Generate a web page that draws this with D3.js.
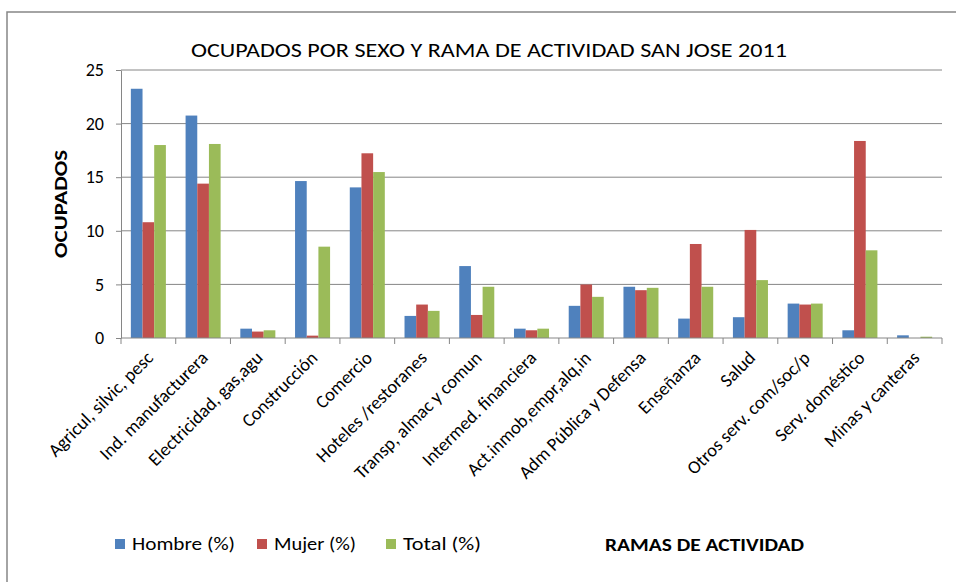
<!DOCTYPE html>
<html>
<head>
<meta charset="utf-8">
<script src="https://cdn.jsdelivr.net/npm/d3@7"></script>
<style>
  body { margin: 0; background: #fff; }
  text { font-family: Carlito, Lato, "Liberation Sans", sans-serif; fill: #000; }
</style>
</head>
<body>
<div id="chart"></div>
<script>
const categories = [
  "Agricul, silvic, pesc", "Ind. manufacturera", "Electricidad, gas,agu",
  "Construcción", "Comercio", "Hoteles /restoranes", "Transp, almac y comun",
  "Intermed. financiera", "Act.inmob,empr,alq,in", "Adm Pública y Defensa",
  "Enseñanza", "Salud", "Otros serv. com/soc/p", "Serv. doméstico", "Minas y canteras"
];
const hombre = [23.25, 20.75, 0.87, 14.64, 14.05, 2.06, 6.71, 0.87, 3.0, 4.78, 1.81, 1.94, 3.21, 0.72, 0.25];
const mujer  = [10.8, 14.4, 0.6, 0.22, 17.23, 3.12, 2.15, 0.72, 4.99, 4.46, 8.77, 10.08, 3.12, 18.38, 0];
const total  = [18.0, 18.1, 0.72, 8.52, 15.48, 2.53, 4.78, 0.87, 3.84, 4.68, 4.78, 5.4, 3.21, 8.18, 0.12];
const seriesNames = ["Hombre (%)", "Mujer (%)", "Total (%)"];
const seriesColors = ["#4F81BD", "#C0504D", "#9BBB59"];
const yTicks = [0, 5, 10, 15, 20, 25];

const W = 956, H = 582;
const plot = { left: 121, right: 942, top: 70, bottom: 338 };
const gray = "#868686";

const svg = d3.select("#chart").append("svg")
  .attr("width", W)
  .attr("height", H);

// outer chart border
svg.append("rect")
  .attr("x", 7).attr("y", 12)
  .attr("width", 980).attr("height", 620)
  .attr("fill", "none")
  .attr("stroke", gray)
  .attr("stroke-width", 1.5);

const x0 = d3.scaleBand()
  .domain(categories)
  .range([plot.left, plot.right])
  .paddingInner(0.36)
  .paddingOuter(0.18);

const x1 = d3.scaleBand()
  .domain(d3.range(3))
  .range([0, x0.bandwidth()]);

const y = d3.scaleLinear()
  .domain([0, 25])
  .range([plot.bottom, plot.top]);

// gridlines
svg.append("g")
  .selectAll("line")
  .data(yTicks.filter(d => d > 0))
  .join("line")
  .attr("x1", plot.left).attr("x2", plot.right)
  .attr("y1", d => y(d)).attr("y2", d => y(d))
  .attr("stroke", gray)
  .attr("stroke-width", 1);

// y axis
const yAxis = svg.append("g")
  .attr("transform", `translate(${plot.left},0)`)
  .call(d3.axisLeft(y).tickValues(yTicks).tickSize(5).tickPadding(12).tickSizeOuter(0));
yAxis.select(".domain").attr("stroke", gray);
yAxis.selectAll(".tick line").attr("stroke", gray);
yAxis.selectAll(".tick text")
  .style("font-size", "18px")
  .attr("fill", "#000");

// bars
const series = [hombre, mujer, total];
const groups = svg.append("g")
  .selectAll("g")
  .data(categories)
  .join("g")
  .attr("transform", d => `translate(${x0(d)},0)`);

groups.selectAll("rect")
  .data((d, i) => series.map((s, k) => ({ k, v: s[i] })))
  .join("rect")
  .attr("x", d => x1(d.k))
  .attr("width", x1.bandwidth())
  .attr("y", d => y(d.v))
  .attr("height", d => y(0) - y(d.v))
  .attr("fill", d => seriesColors[d.k]);

// x axis line and ticks at category boundaries
const step = x0.step();
svg.append("line")
  .attr("x1", plot.left).attr("x2", plot.right)
  .attr("y1", y(0)).attr("y2", y(0))
  .attr("stroke", gray);

const boundaries = categories.map(c => x0(c) - step * 0.18).concat([plot.right]);
svg.append("g")
  .selectAll("line")
  .data(boundaries)
  .join("line")
  .attr("x1", d => d).attr("x2", d => d)
  .attr("y1", y(0)).attr("y2", y(0) + 6)
  .attr("stroke", gray);

// x labels rotated
svg.append("g")
  .selectAll("text")
  .data(categories)
  .join("text")
  .attr("transform", d => `translate(${x0(d) + x0.bandwidth() / 2 + 6},${y(0) + 21}) rotate(-45)`)
  .attr("text-anchor", "end")
  .style("font-size", "18.5px")
  .text(d => d);

// title
svg.append("text")
  .attr("x", 489).attr("y", 57)
  .attr("text-anchor", "middle")
  .attr("textLength", 596)
  .attr("lengthAdjust", "spacingAndGlyphs")
  .style("font-size", "21px")
  .text("OCUPADOS POR SEXO Y RAMA DE ACTIVIDAD SAN JOSE 2011");

// y axis title
svg.append("text")
  .attr("transform", `translate(67,204) rotate(-90)`)
  .attr("text-anchor", "middle")
  .attr("textLength", 108)
  .attr("lengthAdjust", "spacingAndGlyphs")
  .style("font-size", "17px")
  .style("font-weight", "bold")
  .text("OCUPADOS");

// legend
const legendX = [115, 257, 386];
const legendW = [103, 82, 78];
const legend = svg.append("g")
  .selectAll("g")
  .data(seriesNames)
  .join("g")
  .attr("transform", (d, i) => `translate(${legendX[i]},537)`);
legend.append("rect")
  .attr("width", 10).attr("height", 10)
  .attr("y", 2)
  .attr("fill", (d, i) => seriesColors[i]);
legend.append("text")
  .attr("x", 17).attr("y", 13)
  .attr("textLength", (d, i) => legendW[i])
  .attr("lengthAdjust", "spacingAndGlyphs")
  .style("font-size", "18px")
  .text(d => d);

// x axis title
svg.append("text")
  .attr("x", 605).attr("y", 551)
  .attr("textLength", 199)
  .attr("lengthAdjust", "spacingAndGlyphs")
  .style("font-size", "19px")
  .style("font-weight", "bold")
  .text("RAMAS DE ACTIVIDAD");
</script>
</body>
</html>
